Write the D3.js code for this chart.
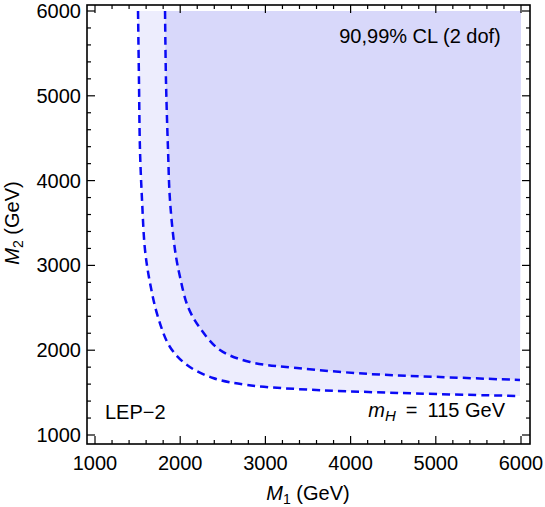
<!DOCTYPE html>
<html><head><meta charset="utf-8">
<script src="https://cdn.jsdelivr.net/npm/d3@7"></script>
<style>body{margin:0;background:#fff}svg{display:block}text{font-family:"Liberation Sans",Arial,Helvetica,sans-serif}</style>
</head><body><svg id="c" width="545" height="507"></svg>
<script>
// Data (GeV)
const xTicks = [1000, 2000, 3000, 4000, 5000, 6000];
const yTicks = [1000, 2000, 3000, 4000, 5000, 6000];
const tickLabels = ["1000", "2000", "3000", "4000", "5000", "6000"];
// 90% CL boundary (outer, lighter band edge)
const outerM1 = [1505, 1516, 1528, 1552, 1587, 1646, 1739, 1880, 2080, 2385, 2784, 3371, 4580, 5988];
const outerM2 = [6000, 5186, 4361, 3771, 3182, 2792, 2392, 2038, 1825, 1672, 1590, 1542, 1495, 1460];
// 99% CL boundary (inner, darker region edge)
const innerM1 = [1822, 1833, 1857, 1880, 1939, 1998, 2092, 2232, 2467, 2819, 3371, 4228, 5049, 5988];
const innerM2 = [6000, 5186, 4361, 3771, 3182, 2863, 2509, 2262, 2002, 1861, 1790, 1719, 1684, 1649];
const domainMax = 6000, domainMin = 1000;

const svg = d3.select("#c");
const x = d3.scaleLinear().domain([1000, 6000]).range([95, 521]);
const y = d3.scaleLinear().domain([1000, 6000]).range([435, 11]);
const frame = {x0: 87, x1: 530, y0: 5, y1: 444};

const outer = outerM1.map((v, i) => [v, outerM2[i]]);
const inner = innerM1.map((v, i) => [v, innerM2[i]]);
const line = d3.line().x(d => x(d[0])).y(d => y(d[1])).curve(d3.curveCatmullRom.alpha(0.5));

function regionPath(pts) {
  const p = line(pts);
  return p + "L" + x(domainMax) + "," + y(domainMax) + "Z";
}
svg.append("path").attr("d", regionPath(outer)).attr("fill", "rgb(237,237,253)");
svg.append("path").attr("d", regionPath(inner)).attr("fill", "rgb(216,216,250)");

[outer, inner].forEach(pts => {
  svg.append("path").attr("d", line(pts)).attr("fill", "none")
    .attr("stroke", "rgb(10,10,245)").attr("stroke-width", 2.5)
    .attr("stroke-dasharray", "8,5");
});

// frame
svg.append("rect").attr("x", frame.x0).attr("y", frame.y0)
  .attr("width", frame.x1 - frame.x0).attr("height", frame.y1 - frame.y0)
  .attr("fill", "none").attr("stroke", "#000").attr("stroke-width", 1.6);

// ticks
const minor = d3.range(1000, 6001, 200);
const tg = svg.append("g").attr("stroke", "#000").attr("stroke-width", 1.2);
minor.forEach(v => {
  const major = v % 1000 === 0;
  const L = major ? 8 : 4;
  const xp = x(v), yp = y(v);
  tg.append("line").attr("x1", xp).attr("x2", xp).attr("y1", frame.y1).attr("y2", frame.y1 - L);
  tg.append("line").attr("x1", xp).attr("x2", xp).attr("y1", frame.y0).attr("y2", frame.y0 + L);
  tg.append("line").attr("y1", yp).attr("y2", yp).attr("x1", frame.x0).attr("x2", frame.x0 + L);
  tg.append("line").attr("y1", yp).attr("y2", yp).attr("x1", frame.x1).attr("x2", frame.x1 - L);
});

const fs = 20;
xTicks.forEach((v, i) => {
  svg.append("text").attr("x", x(v)).attr("y", 470).attr("text-anchor", "middle")
    .attr("font-size", fs).text(tickLabels[i]);
});
yTicks.forEach((v, i) => {
  svg.append("text").attr("x", 81).attr("y", y(v) + 7).attr("text-anchor", "end")
    .attr("font-size", fs).text(tickLabels[i]);
});

// axis titles
const xt = svg.append("text").attr("x", 308).attr("y", 500).attr("text-anchor", "middle").attr("font-size", fs);
xt.append("tspan").attr("font-style", "italic").text("M");
xt.append("tspan").attr("font-size", 14).attr("dy", 4).text("1");
xt.append("tspan").attr("dy", -4).text(" (GeV)");

const yt = svg.append("text").attr("transform", "translate(19,223) rotate(-90)").attr("text-anchor", "middle").attr("font-size", fs);
yt.append("tspan").attr("font-style", "italic").text("M");
yt.append("tspan").attr("font-size", 14).attr("dy", 4).text("2");
yt.append("tspan").attr("dy", -4).text(" (GeV)");

// annotations
svg.append("text").attr("x", 420).attr("y", 43).attr("text-anchor", "middle").attr("font-size", fs).text("90,99% CL (2 dof)");
svg.append("text").attr("x", 105).attr("y", 419).attr("font-size", fs).text("LEP\u22122");
const mh = svg.append("text").attr("x", 505).attr("y", 417).attr("text-anchor", "end").attr("font-size", fs);
mh.append("tspan").attr("font-style", "italic").text("m");
mh.append("tspan").attr("font-style", "italic").attr("font-size", 15).attr("dy", 4).text("H");
mh.append("tspan").attr("dy", -4).text("\u2002=\u2002115 GeV");
</script></body></html>
